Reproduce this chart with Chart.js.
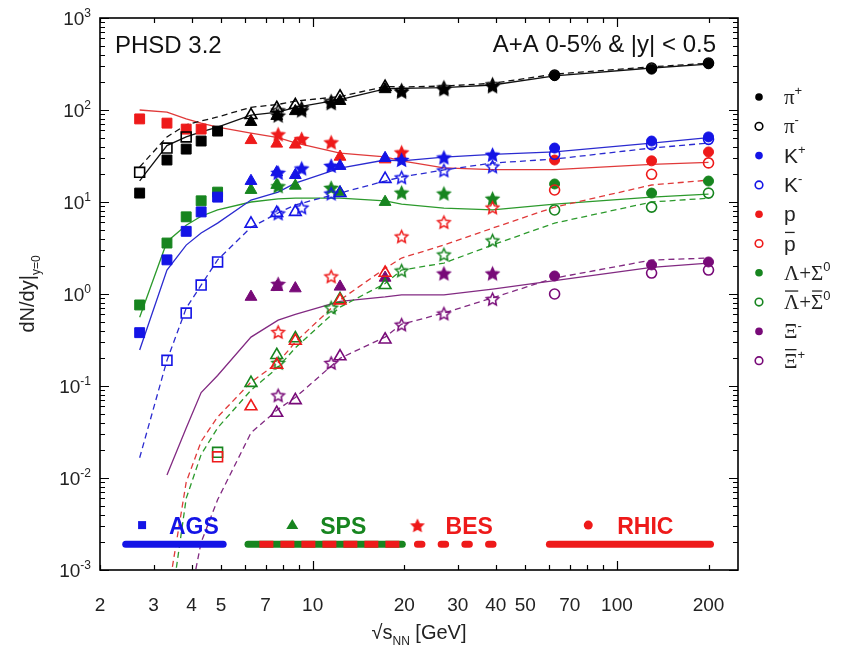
<!DOCTYPE html>
<html>
<head>
<meta charset="utf-8">
<script src="https://cdn.jsdelivr.net/npm/chart.js@4.4.0/dist/chart.umd.min.js"></script>
<style>
  html, body { margin: 0; padding: 0; background: #fff; }
</style>
</head>
<body>
<canvas id="yieldChart" width="861" height="646"></canvas>
<script>
// collision energies sqrt(s_NN) [GeV] per facility
const agsE = [2.7, 3.32, 3.84, 4.3, 4.87];
const spsE = [6.27, 7.62, 8.77, 12.3, 17.3];
const besE = [7.7, 9.2, 11.5, 19.6, 27, 39];
const rhicE = [62.4, 130, 200];

// measured dN/dy at midrapidity (null = no point)
const piPlusAGS = [12.5, 28.6, 37.6, 46, 59];
const piPlusSPS = [74, 86, 97, 125, 168];
const piPlusBES = [88, 100, 120, 160, 170, 183];
const piPlusRHIC = [236, 278, 318];
const piMinusAGS = [21, 38.6, 51, null, null];
const piMinusSPS = [88, 105, 113, 140, 178];
const piMinusBES = [100, 106, 126, 166, 178, 192];
const piMinusRHIC = [240, 286, 324];

const kPlusAGS = [0.38, 2.35, 4.8, 7.8, 11.3];
const kPlusSPS = [16.9, 21, 19.6, 24.6, 30];
const kPlusBES = [21, 23.4, 25, 29, 30.8, 33];
const kPlusRHIC = [38.6, 46, 51];
const kMinusAGS = [null, 0.19, 0.62, 1.25, 2.23];
const kMinusSPS = [5.8, 7.6, 7.8, 12.5, 17.8];
const kMinusBES = [7.6, 8.8, 12.5, 18.7, 22.3, 24.6];
const kMinusRHIC = [33, 42, 48];

const pAGS = [80, 72, 62, 62, null];
const pSPS = [47, 43, 42, 31, 29];
const pBES = [55, 49, 45, 35, null, null];
const pRHIC = [28.6, 28, 35];
const pbarAGS = [null, null, null, null, 0.017];
const pbarSPS = [0.06, 0.17, 0.31, 0.85, 1.7];
const pbarBES = [0.39, null, 1.57, 4.27, 6.1, 8.8];
const pbarRHIC = [13.5, 20, 26.6];

const lamAGS = [0.76, 3.58, 6.9, 10.3, 12.8];
const lamSPS = [13.5, 15.3, 15, 12.7, 10];
const lamBES = [15, null, 14.4, 12.8, 12.5, 11];
const lamRHIC = [15.7, 12.5, 16.9];
const lambarAGS = [null, null, null, null, 0.019];
const lambarSPS = [0.108, 0.217, 0.33, 0.88, 1.25];
const lambarBES = [0.18, null, 0.72, 1.82, 2.72, 3.86];
const lambarRHIC = [8.2, 8.8, 12.5];

const xiAGS = [null, null, null, null, null];
const xiSPS = [0.93, 1.19, 1.15, 1.2, 1.5];
const xiBES = [1.3, null, null, null, 1.69, 1.69];
const xiRHIC = [1.57, 2.07, 2.23];
const xibarAGS = [null, null, null, null, null];
const xibarSPS = [null, 0.051, 0.07, 0.21, 0.32];
const xibarBES = [0.08, null, 0.18, 0.47, 0.62, 0.89];
const xibarRHIC = [1.0, 1.69, 1.82];

// PHSD 3.2 calculations on a common energy grid
const modelE = [2.7, 3.32, 3.84, 4.3, 4.87, 6.27, 7.7, 8.77, 12.3, 17.3, 19.6, 27, 39, 62.4, 130, 200];
const piPlusModel  = [17, 41, 51, 58, 65, 88, 95, 107, 130, 170, 172, 175, 187, 235, 286, 316];
const piMinusModel = [24, 51, 69, 76, 84, 107, 115, 125, 140, 180, 178, 182, 195, 245, 295, 322];
const kPlusModel   = [0.246, 1.82, 3.4, 4.6, 5.9, 10.5, 12.8, 16, 23.4, 28.6, 28, 30.8, 33, 35, 43.7, 50];
const kMinusModel  = [0.0166, 0.19, 0.7, 1.25, 2.35, 5.3, 7.6, 9.3, 12.5, 16.9, 18.7, 22.3, 26.5, 29.3, 38.6, 43.7];
const pModel       = [100, 95, 80, 72, 65, 56, 50, 44, 34, 31, 28, 23.5, 22.5, 22.5, 25.6, 27];
const pbarModel    = [0.00001, 0.00047, 0.009, 0.025, 0.046, 0.11, 0.18, 0.3, 0.86, 1.9, 2.46, 3.41, 5.2, 8.8, 15.3, 17.3];
const lamModel     = [0.56, 3.7, 5.6, 7.0, 8.2, 10, 10.8, 11, 11, 10.3, 9.5, 8.6, 8.2, 9.5, 11.3, 12.2];
const lambarModel  = [0.00001, 0.0002, 0.006, 0.018, 0.035, 0.09, 0.16, 0.26, 0.72, 1.3, 1.82, 2.17, 3.41, 5.9, 10, 11];
const xiModel      = [null, 0.0108, 0.035, 0.085, 0.13, 0.34, 0.52, 0.6, 0.83, 0.93, 0.98, 0.98, 1.13, 1.4, 1.95, 2.17];
const xibarModel   = [null, null, 0.0003, 0.002, 0.0058, 0.031, 0.056, 0.075, 0.2, 0.34, 0.47, 0.62, 0.91, 1.49, 2.34, 2.46];

// facility bands at the bottom
const agsBand = [2.43, 5.08];
const spsBand = [6.13, 19.7];
const besBand = [22.1, 40.3];
const rhicBand = [60, 203];
const bandLevel = 0.0019;

const xTicks = [2, 3, 4, 5, 7, 10, 20, 30, 40, 50, 70, 100, 200];
const yExponents = [3, 2, 1, 0, -1, -2, -3];

const FONT = '"Liberation Sans", Arial, sans-serif';
const SERIF = '"Liberation Serif", "Times New Roman", serif';
const C = {
    black: '#000000',
    blue: '#1414e6',
    red: '#ee1a1a',
    green: '#17851f',
    purple: '#780a78'
};
const LINE = {
    black: '#111111',
    blue: '#2b2bd0',
    red: '#e03a3a',
    green: '#2c9a2c',
    purple: '#822a82'
};

// 5-point star marker as a small canvas
function starImg(color, filled, R) {
    const s = Math.ceil(R * 2 + 4);
    const cv = document.createElement('canvas');
    cv.width = s; cv.height = s;
    const c = cv.getContext('2d');
    c.beginPath();
    for (let i = 0; i < 10; i++) {
        const r = i % 2 ? R * 0.48 : R;
        const a = -Math.PI / 2 + i * Math.PI / 5;
        c.lineTo(s / 2 + r * Math.cos(a), s / 2 + 1 + r * Math.sin(a));
    }
    c.closePath();
    if (filled) { c.fillStyle = color; c.fill(); }
    c.lineWidth = 1.5;
    c.strokeStyle = color;
    c.stroke();
    return cv;
}

function markerSet(label, color, filled, ags, sps, bes, rhic) {
    const data = [], styles = [], radii = [];
    const star = starImg(color, filled, 6.5);
    const add = (xs, ys, st, r) => xs.forEach((x, i) => {
        if (ys[i] != null) { data.push({ x: x, y: ys[i] }); styles.push(st); radii.push(r); }
    });
    add(agsE, ags, 'rect', 7);
    add(spsE, sps, 'triangle', 6.8);
    add(besE, bes, star, 6);
    add(rhicE, rhic, 'circle', 5);
    return {
        label: label,
        data: data,
        showLine: false,
        pointStyle: styles,
        pointRadius: radii,
        pointBackgroundColor: filled ? color : 'rgba(0,0,0,0)',
        pointBorderColor: color,
        pointBorderWidth: filled ? 1 : 1.6,
        order: 0
    };
}

function modelSet(label, color, dashed, ys) {
    const data = [];
    modelE.forEach((x, i) => { if (ys[i] != null) data.push({ x: x, y: ys[i] }); });
    return {
        label: label,
        data: data,
        showLine: true,
        pointRadius: 0,
        borderColor: color,
        borderWidth: 1.3,
        borderDash: dashed ? [6, 4] : [],
        order: 2
    };
}

function bandSet(range, color, width, dash, offset, cap) {
    return {
        label: 'band',
        data: [{ x: range[0], y: bandLevel }, { x: range[1], y: bandLevel }],
        showLine: true,
        pointRadius: 0,
        borderColor: color,
        borderWidth: width,
        borderDash: dash,
        borderDashOffset: offset,
        borderCapStyle: cap,
        order: 1
    };
}

// rich text: parts = [{t, m: 'n'|'sup'|'sub', bar, serif}]
function partFont(p, size) {
    const s = p.m && p.m !== 'n' ? Math.round(size * 0.62) : size;
    return s + 'px ' + (p.serif ? SERIF : FONT);
}
function richText(ctx, x, y, parts, size, align) {
    const widths = parts.map(p => { ctx.font = partFont(p, size); return ctx.measureText(p.t).width; });
    const total = widths.reduce((a, b) => a + b, 0);
    let cx = align === 'right' ? x - total : align === 'center' ? x - total / 2 : x;
    ctx.textAlign = 'left';
    ctx.textBaseline = 'alphabetic';
    parts.forEach((p, i) => {
        ctx.font = partFont(p, size);
        const dy = p.m === 'sup' ? -size * 0.42 : p.m === 'sub' ? size * 0.32 : 0;
        ctx.fillText(p.t, cx, y + dy);
        if (p.bar) {
            ctx.save();
            ctx.lineWidth = 1.3;
            ctx.strokeStyle = ctx.fillStyle;
            ctx.beginPath();
            ctx.moveTo(cx + 1, y - size * 0.86);
            ctx.lineTo(cx + widths[i] - 1, y - size * 0.86);
            ctx.stroke();
            ctx.restore();
        }
        cx += widths[i];
    });
}

const legendItems = [
    { color: C.black, filled: true, parts: [{ t: 'π', serif: true }, { t: '+', m: 'sup' }] },
    { color: C.black, filled: false, parts: [{ t: 'π', serif: true }, { t: '-', m: 'sup' }] },
    { color: C.blue, filled: true, parts: [{ t: 'K' }, { t: '+', m: 'sup' }] },
    { color: C.blue, filled: false, parts: [{ t: 'K' }, { t: '-', m: 'sup' }] },
    { color: C.red, filled: true, parts: [{ t: 'p' }] },
    { color: C.red, filled: false, parts: [{ t: 'p', bar: true }] },
    { color: C.green, filled: true, parts: [{ t: 'Λ+Σ', serif: true }, { t: '0', m: 'sup' }] },
    { color: C.green, filled: false, parts: [{ t: 'Λ', serif: true, bar: true }, { t: '+', serif: true }, { t: 'Σ', serif: true, bar: true }, { t: '0', m: 'sup' }] },
    { color: C.purple, filled: true, parts: [{ t: 'Ξ', serif: true }, { t: '-', m: 'sup' }] },
    { color: C.purple, filled: false, parts: [{ t: 'Ξ', serif: true, bar: true }, { t: '+', m: 'sup' }] }
];

const facilityLabels = [
    { text: 'AGS', color: C.blue, x: 4.07, markX: 2.75, mark: 'rect' },
    { text: 'SPS', color: C.green, x: 12.6, markX: 8.57, mark: 'triangle' },
    { text: 'BES', color: C.red, x: 32.7, markX: 22.1, mark: 'star' },
    { text: 'RHIC', color: C.red, x: 124, markX: 80.5, mark: 'circle' }
];

const framePlugin = {
    id: 'frame',
    afterDraw(chart) {
        const ctx = chart.ctx;
        const a = chart.chartArea;
        const xs = chart.scales.x, ys = chart.scales.y;
        ctx.save();

        // frame
        ctx.strokeStyle = '#000';
        ctx.lineWidth = 1.6;
        ctx.strokeRect(a.left, a.top, a.right - a.left, a.bottom - a.top);

        // y ticks (inward, both sides)
        ctx.lineWidth = 1.2;
        ctx.beginPath();
        for (let e = -3; e <= 3; e++) {
            for (let m = 1; m <= 9; m++) {
                const v = m * Math.pow(10, e);
                if (v > 1000.0001) break;
                const py = Math.round(ys.getPixelForValue(v)) + 0.5;
                const len = m === 1 ? 9 : 5;
                ctx.moveTo(a.left, py); ctx.lineTo(a.left + len, py);
                ctx.moveTo(a.right, py); ctx.lineTo(a.right - len, py);
            }
        }
        // x ticks
        for (let e = 0; e <= 2; e++) {
            for (let m = 1; m <= 9; m++) {
                const v = m * Math.pow(10, e);
                if (v < 2 || v > 250) continue;
                const px = Math.round(xs.getPixelForValue(v)) + 0.5;
                const len = m === 1 ? 9 : 5;
                ctx.moveTo(px, a.bottom); ctx.lineTo(px, a.bottom - len);
                ctx.moveTo(px, a.top); ctx.lineTo(px, a.top + len);
            }
        }
        ctx.stroke();

        // tick labels
        ctx.fillStyle = '#222';
        yExponents.forEach(e => {
            const py = ys.getPixelForValue(Math.pow(10, e));
            richText(ctx, 91, py + 7, [{ t: '10' }, { t: String(e).replace('-', '-'), m: 'sup' }], 19, 'right');
        });
        ctx.font = '19px ' + FONT;
        ctx.textAlign = 'center';
        ctx.textBaseline = 'alphabetic';
        xTicks.forEach(v => {
            ctx.fillText(String(v), xs.getPixelForValue(v), 611);
        });

        // axis titles
        richText(ctx, (a.left + a.right) / 2, 639, [{ t: '√s' }, { t: 'NN', m: 'sub' }, { t: ' [GeV]' }], 20, 'center');
        ctx.save();
        ctx.translate(34, (a.top + a.bottom) / 2);
        ctx.rotate(-Math.PI / 2);
        richText(ctx, 0, 0, [{ t: 'dN/dy|' }, { t: 'y=0', m: 'sub' }], 20, 'center');
        ctx.restore();

        // annotations
        ctx.fillStyle = '#111';
        ctx.font = '24px ' + FONT;
        ctx.textAlign = 'left';
        ctx.fillText('PHSD 3.2', 115, 53);
        ctx.textAlign = 'right';
        ctx.fillText('A+A 0-5% & |y| < 0.5', 716, 52);

        // facility labels
        facilityLabels.forEach(f => {
            const ty = ys.getPixelForValue(0.003);
            ctx.fillStyle = f.color;
            ctx.font = 'bold 23px ' + FONT;
            ctx.textAlign = 'center';
            ctx.fillText(f.text, xs.getPixelForValue(f.x), ty + 8);
            const mx = xs.getPixelForValue(f.markX);
            ctx.beginPath();
            if (f.mark === 'rect') {
                ctx.rect(mx - 4, ty - 5, 8, 8);
                ctx.fill();
            } else if (f.mark === 'triangle') {
                ctx.moveTo(mx, ty - 7); ctx.lineTo(mx + 6, ty + 3); ctx.lineTo(mx - 6, ty + 3);
                ctx.closePath(); ctx.fill();
            } else if (f.mark === 'circle') {
                ctx.arc(mx, ty - 1, 4.5, 0, Math.PI * 2);
                ctx.fill();
            } else {
                const st = starImg(f.color, true, 6);
                ctx.drawImage(st, mx - st.width / 2, ty - 1 - st.height / 2);
            }
        });

        // legend
        legendItems.forEach((it, i) => {
            const ly = 97 + i * 29.3;
            ctx.beginPath();
            ctx.arc(759, ly, 3.8, 0, Math.PI * 2);
            if (it.filled) { ctx.fillStyle = it.color; ctx.fill(); }
            else { ctx.strokeStyle = it.color; ctx.lineWidth = 1.6; ctx.stroke(); }
            ctx.fillStyle = '#222';
            richText(ctx, 784, ly + 7, it.parts, 21, 'left');
        });

        ctx.restore();
    }
};

document.addEventListener('DOMContentLoaded', function () {
    const ctx = document.getElementById('yieldChart').getContext('2d');
    const datasets = [
        markerSet('π+', C.black, true, piPlusAGS, piPlusSPS, piPlusBES, piPlusRHIC),
        markerSet('π-', C.black, false, piMinusAGS, piMinusSPS, piMinusBES, piMinusRHIC),
        markerSet('K+', C.blue, true, kPlusAGS, kPlusSPS, kPlusBES, kPlusRHIC),
        markerSet('K-', C.blue, false, kMinusAGS, kMinusSPS, kMinusBES, kMinusRHIC),
        markerSet('p', C.red, true, pAGS, pSPS, pBES, pRHIC),
        markerSet('pbar', C.red, false, pbarAGS, pbarSPS, pbarBES, pbarRHIC),
        markerSet('Lambda', C.green, true, lamAGS, lamSPS, lamBES, lamRHIC),
        markerSet('antiLambda', C.green, false, lambarAGS, lambarSPS, lambarBES, lambarRHIC),
        markerSet('Xi-', C.purple, true, xiAGS, xiSPS, xiBES, xiRHIC),
        markerSet('antiXi+', C.purple, false, xibarAGS, xibarSPS, xibarBES, xibarRHIC),

        modelSet('PHSD π+', LINE.black, false, piPlusModel),
        modelSet('PHSD π-', LINE.black, true, piMinusModel),
        modelSet('PHSD K+', LINE.blue, false, kPlusModel),
        modelSet('PHSD K-', LINE.blue, true, kMinusModel),
        modelSet('PHSD p', LINE.red, false, pModel),
        modelSet('PHSD pbar', LINE.red, true, pbarModel),
        modelSet('PHSD Lambda', LINE.green, false, lamModel),
        modelSet('PHSD antiLambda', LINE.green, true, lambarModel),
        modelSet('PHSD Xi-', LINE.purple, false, xiModel),
        modelSet('PHSD antiXi+', LINE.purple, true, xibarModel),

        bandSet(agsBand, C.blue, 7, [], 0, 'round'),
        bandSet(spsBand, C.green, 7, [], 0, 'round'),
        bandSet([spsBand[0] * 1.09, spsBand[1]], C.red, 7, [14, 7], 0, 'butt'),
        bandSet(besBand, C.red, 7, [4.5, 19.2], 0, 'round'),
        bandSet(rhicBand, C.red, 7, [], 0, 'round')
    ];
    // bands: the dashed red overlay must sit above the green base
    datasets[22].order = 0.5;

    new Chart(ctx, {
        type: 'scatter',
        data: { datasets: datasets },
        options: {
            responsive: false,
            animation: false,
            devicePixelRatio: 1,
            events: [],
            layout: { padding: { left: 100, top: 18, right: 123, bottom: 76 } },
            scales: {
                x: { type: 'logarithmic', min: 2, max: 250, display: false },
                y: { type: 'logarithmic', min: 0.001, max: 1000, display: false }
            },
            plugins: {
                legend: { display: false },
                tooltip: { enabled: false }
            }
        },
        plugins: [framePlugin]
    });
});
</script>
</body>
</html>
